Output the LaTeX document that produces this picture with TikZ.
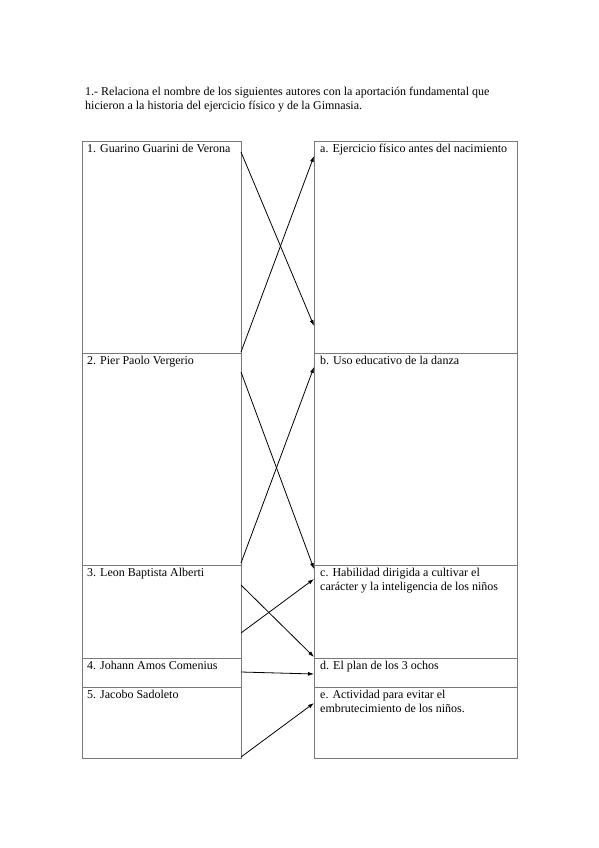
\documentclass[tikz,border=0pt]{standalone}
\usepackage{fontspec}
\setmainfont{Liberation Serif}
\usetikzlibrary{arrows.meta,positioning,calc}
\definecolor{boxcol}{RGB}{120,120,120}

\begin{document}
\begin{tikzpicture}[x=1pt,y=-1pt,
    lbox/.style={rectangle, draw=boxcol, line width=0.9pt, minimum width=159pt, anchor=north west, inner sep=0pt, outer sep=0pt},
    rbox/.style={rectangle, draw=boxcol, line width=0.9pt, minimum width=203pt, anchor=north west, inner sep=0pt, outer sep=0pt},
    txt/.style={font=\fontsize{12}{14}\selectfont, anchor=base west, inner sep=0pt, align=left},
    link/.style={-{Latex[length=6pt,width=4pt]}, line width=0.8pt},
]
\useasboundingbox (0,0) rectangle (599,848);

\node[txt] (title) at (85,110)
{1.- Relaciona el nombre de los siguientes autores con la aportación fundamental que\\
hicieron a la historia del ejercicio físico y de la Gimnasia.};

% left column
\node[lbox, minimum height=212pt] (l1) at (82,141) {};
\node[lbox, minimum height=212pt] (l2) at (l1.south west) {};
\node[lbox, minimum height=93pt] (l3) at (l2.south west) {};
\node[lbox, minimum height=29pt] (l4) at (l3.south west) {};
\node[lbox, minimum height=71pt] (l5) at (l4.south west) {};

% right column
\node[rbox, minimum height=212pt] (r1) at (314,141) {};
\node[rbox, minimum height=212pt] (r2) at (r1.south west) {};
\node[rbox, minimum height=93pt] (r3) at (r2.south west) {};
\node[rbox, minimum height=29pt] (r4) at (r3.south west) {};
\node[rbox, minimum height=71pt] (r5) at (r4.south west) {};

\node[txt] (t1) at ([shift={(5pt,-11.7pt)}]l1.north west) {1. Guarino Guarini de Verona};
\node[txt] (t2) at ([shift={(5pt,-11.7pt)}]l2.north west) {2. Pier Paolo Vergerio};
\node[txt] (t3) at ([shift={(5pt,-11.7pt)}]l3.north west) {3. Leon Baptista Alberti};
\node[txt] (t4) at ([shift={(5pt,-11.7pt)}]l4.north west) {4. Johann Amos Comenius};
\node[txt] (t5) at ([shift={(5pt,-11.7pt)}]l5.north west) {5. Jacobo Sadoleto};

\node[txt] (ta) at ([shift={(6pt,-11.7pt)}]r1.north west) {a. Ejercicio físico antes del nacimiento};
\node[txt] (tb) at ([shift={(6pt,-11.7pt)}]r2.north west) {b. Uso educativo de la danza};
\node[txt] (tc) at ([shift={(6pt,-25.7pt)}]r3.north west) {c. Habilidad dirigida a cultivar el\\carácter y la inteligencia de los niños};
\node[txt] (td) at ([shift={(6pt,-11.7pt)}]r4.north west) {d. El plan de los 3 ochos};
\node[txt] (te) at ([shift={(6pt,-25.7pt)}]r5.north west) {e. Actividad para evitar el\\embrutecimiento de los niños.};

% arrow ends
\coordinate (s1) at ([yshift=-11pt]l1.north east);
\coordinate (e1) at ([yshift=-185pt]r1.north west);
\coordinate (s2) at ([yshift=1pt]l1.south east);
\coordinate (e2) at ([yshift=-15pt]r1.north west);
\coordinate (s3) at ([yshift=-19pt]l2.north east);
\coordinate (e3) at ([yshift=-4pt]r3.north west);
\coordinate (s4) at ([yshift=2pt]l2.south east);
\coordinate (e4) at ([yshift=-14pt]r2.north west);
\coordinate (s5) at ([yshift=-20pt]l3.north east);
\coordinate (e5) at ([yshift=1pt]r4.north west);
\coordinate (s6) at ([yshift=-68pt]l3.north east);
\coordinate (e6) at ([yshift=-14pt]r3.north west);
\coordinate (s7) at ([yshift=-14pt]l4.north east);
\coordinate (e7) at ([yshift=-16pt]r4.north west);
\coordinate (s8) at ([yshift=1pt]l5.south east);
\coordinate (e8) at ([yshift=-16pt]r5.north west);

\foreach \i in {1,...,8}
  \draw[link] (s\i) -- (e\i);
\end{tikzpicture}
\end{document}
